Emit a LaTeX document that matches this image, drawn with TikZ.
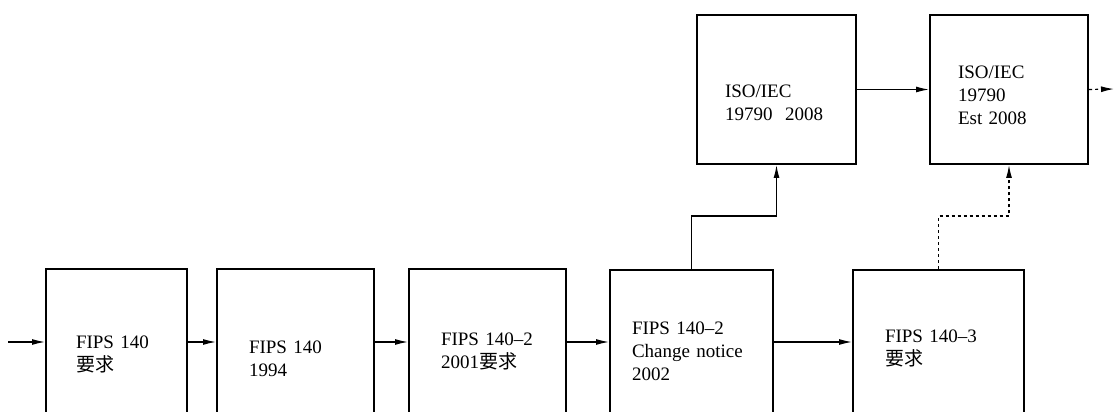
\documentclass[tikz,border=0pt]{standalone}
\usepackage{fontspec}
\setmainfont{Liberation Serif}
\newfontfamily\cjk{Noto Sans CJK SC}
\usepackage{tikz}
\usetikzlibrary{arrows.meta,positioning,calc}

\begin{document}
\begin{tikzpicture}[
  x=1pt, y=1pt,
  box/.style={draw, line width=2pt, anchor=north west, align=left,
              font=\fontsize{19}{23}\selectfont, inner ysep=0pt},
  arr/.style={-{Latex[length=13pt,width=6pt]}, line width=1.2pt},
  varr/.style={arr, dash pattern=on 3pt off 3pt},
]
\useasboundingbox (0,0) rectangle (1119,412);
\clip (0,0) rectangle (1119,412);
% requirement line
\node[box, inner xsep=30pt, text width=81pt, minimum height=170pt] (b1) at (45,144)
  {FIPS 140\\{\cjk 要求}};
\node[box, inner xsep=32pt, text width=93pt, minimum height=180pt] (b2) at (216,144)
  {FIPS 140\\1994};
\node[box, inner xsep=32pt, text width=93pt, minimum height=164pt] (b3) at (408,144)
  {FIPS 140--2\\2001{\cjk 要求}};
\node[box, inner xsep=22pt, text width=119pt, minimum height=162pt] (b4) at (609,143)
  {FIPS 140--2\\Change notice\\2002};
\node[box, inner xsep=32pt, text width=107pt, minimum height=156pt] (b5) at (852,143)
  {FIPS 140--3\\{\cjk 要求}};
% ISO line
\node[box, inner xsep=28pt, text width=103pt, minimum height=149pt] (iso1) at (696,398)
  {\rule{0pt}{40pt}ISO/IEC\\19790~~2008};
\node[box, inner xsep=28pt, text width=102pt, minimum height=149pt] (iso2) at (929,398)
  {\rule{0pt}{24pt}ISO/IEC\\19790\\Est 2008};
\coordinate (in) at (8,70);
\coordinate (out) at (1114,323);
\draw[arr] (in) -- (in -| b1.west);
\draw[arr] (b1.east |- in) -- (b2.west |- in);
\draw[arr] (b2.east |- in) -- (b3.west |- in);
\draw[arr] (b3.east |- in) -- (b4.west |- in);
\draw[arr] (b4.east |- in) -- (b5.west |- in);
\draw[arr] (b4.north) -- ++(0,53) -| (iso1.south);
\draw[arr] (iso1) -- (iso2);
\draw[varr] (iso2.east) -- (out);
\draw[varr] (b5.north) -- ++(0,53) -| (iso2.south);
\end{tikzpicture}
\end{document}
